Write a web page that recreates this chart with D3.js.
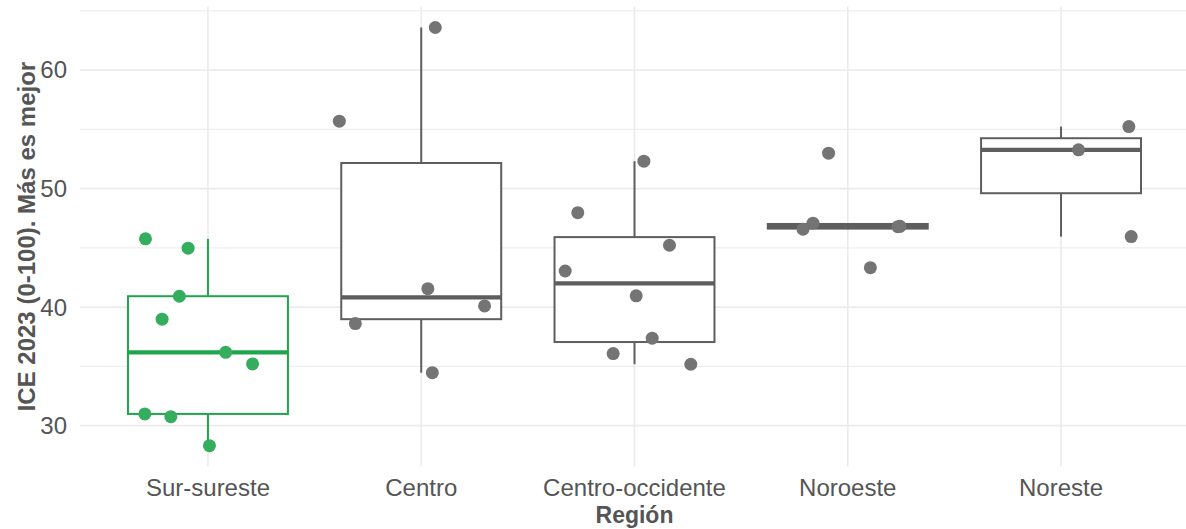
<!DOCTYPE html>
<html>
<head>
<meta charset="utf-8">
<script src="https://cdn.jsdelivr.net/npm/d3@7"></script>
<style>
  body { margin: 0; background: #fff; }
  svg { display: block; font-family: "Liberation Sans", Arial, sans-serif; }
</style>
</head>
<body>
<div id="chart"></div>
<script>
// ICE 2023 by region: boxplots + jittered points

const regiones = ['Sur-sureste', 'Centro', 'Centro-occidente', 'Noroeste', 'Noreste'];

// values per state, by region
const surSureste = [45.76, 44.97, 40.92, 38.98, 36.19, 35.21, 30.99, 30.76, 28.31];
const centro = [63.59, 55.69, 41.56, 40.10, 38.61, 34.47];
const centroOccidente = [52.31, 47.97, 45.22, 43.05, 40.95, 37.38, 36.08, 35.18];
const noroeste = [52.99, 47.08, 46.57, 46.79, 46.82, 43.33];
const noreste = [55.23, 53.27, 45.95];

// horizontal jitter of each point, in category widths
const jitterSurSureste = [-0.293, -0.093, -0.134, -0.215, 0.083, 0.209, -0.296, -0.174, 0.007];
const jitterCentro = [0.066, -0.384, 0.031, 0.297, -0.309, 0.052];
const jitterCentroOccidente = [0.044, -0.266, 0.164, -0.325, 0.008, 0.083, -0.1, 0.264];
const jitterNoroeste = [-0.09, -0.163, -0.21, 0.235, 0.245, 0.106];
const jitterNoreste = [0.318, 0.082, 0.329];

const yTicks = [30, 40, 50, 60];
const yMinor = [35, 45, 55, 65];
const destacada = 'Sur-sureste';

const valores = [surSureste, centro, centroOccidente, noroeste, noreste];
const jitters = [jitterSurSureste, jitterCentro, jitterCentroOccidente, jitterNoroeste, jitterNoreste];

const W = 1186, H = 529;
const margin = { left: 80, right: -3, top: 6.6, bottom: 62.4 };
const GREEN_PT = '#34ae5e', GREEN_LN = '#1fa64d';
const GREY_PT = '#747474', GREY_LN = '#5e5e5e';

const svg = d3.select('#chart').append('svg').attr('width', W).attr('height', H);

const allVals = valores.flat();
const [lo, hi] = d3.extent(allVals);
const pad = (hi - lo) * 0.05;

const x = d3.scalePoint().domain(regiones).range([margin.left, W - margin.right]).padding(0.6);
const step = x.step();
const y = d3.scaleLinear().domain([lo - pad, hi + pad]).range([H - margin.bottom, margin.top]);

const grid = svg.append('g');
grid.selectAll('line.minor').data(yMinor.filter(v => v <= hi + pad)).enter().append('line')
    .attr('x1', margin.left).attr('x2', W - margin.right)
    .attr('y1', d => y(d)).attr('y2', d => y(d))
    .attr('stroke', '#eeeeee').attr('stroke-width', 1.2);
grid.selectAll('line.major').data(yTicks).enter().append('line')
    .attr('x1', margin.left).attr('x2', W - margin.right)
    .attr('y1', d => y(d)).attr('y2', d => y(d))
    .attr('stroke', '#ebebeb').attr('stroke-width', 1.6);
grid.selectAll('line.vert').data(regiones).enter().append('line')
    .attr('x1', d => x(d)).attr('x2', d => x(d))
    .attr('y1', margin.top).attr('y2', H - margin.bottom)
    .attr('stroke', '#ebebeb').attr('stroke-width', 1.6);

// box stats (R type 7 quantiles, same as d3.quantile)
const stats = regiones.map((r, i) => {
    const s = valores[i].slice().sort(d3.ascending);
    const q1 = d3.quantile(s, 0.25), med = d3.quantile(s, 0.5), q3 = d3.quantile(s, 0.75);
    const iqr = q3 - q1;
    const wLo = d3.min(s.filter(v => v >= q1 - 1.5 * iqr));
    const wHi = d3.max(s.filter(v => v <= q3 + 1.5 * iqr));
    return { region: r, q1, med, q3, wLo, wHi };
});

const boxW = step * 0.75;
const boxes = svg.append('g').selectAll('g').data(stats).enter().append('g');
const colLn = d => d.region === destacada ? GREEN_LN : GREY_LN;

boxes.append('line')
    .attr('x1', d => x(d.region)).attr('x2', d => x(d.region))
    .attr('y1', d => y(d.q3)).attr('y2', d => y(d.wHi))
    .attr('stroke', colLn).attr('stroke-width', 2);
boxes.append('line')
    .attr('x1', d => x(d.region)).attr('x2', d => x(d.region))
    .attr('y1', d => y(d.q1)).attr('y2', d => y(d.wLo))
    .attr('stroke', colLn).attr('stroke-width', 2);
boxes.append('rect')
    .attr('x', d => x(d.region) - boxW / 2).attr('width', boxW)
    .attr('y', d => y(d.q3)).attr('height', d => y(d.q1) - y(d.q3))
    .attr('fill', '#fff').attr('stroke', colLn).attr('stroke-width', 2);
boxes.append('line')
    .attr('x1', d => x(d.region) - boxW / 2).attr('x2', d => x(d.region) + boxW / 2)
    .attr('y1', d => y(d.med)).attr('y2', d => y(d.med))
    .attr('stroke', colLn).attr('stroke-width', 4.2);

const puntos = regiones.flatMap((r, i) => valores[i].map((v, j) => ({ region: r, value: v, jit: jitters[i][j] })));
svg.append('g').selectAll('circle').data(puntos).enter().append('circle')
    .attr('cx', d => x(d.region) + d.jit * step)
    .attr('cy', d => y(d.value))
    .attr('r', 6.5)
    .attr('fill', d => d.region === destacada ? GREEN_PT : GREY_PT);

// axes labels
const txt = '#555555';
svg.append('g').selectAll('text').data(yTicks).enter().append('text')
    .attr('x', 67).attr('y', d => y(d)).attr('dy', '0.35em')
    .attr('text-anchor', 'end').attr('fill', txt).style('font-size', '24px')
    .text(d => d);
svg.append('g').selectAll('text').data(regiones).enter().append('text')
    .attr('x', d => x(d)).attr('y', 496)
    .attr('text-anchor', 'middle').attr('fill', txt).style('font-size', '24px')
    .text(d => d);

svg.append('text')
    .attr('x', (margin.left + W - margin.right) / 2).attr('y', 523)
    .attr('text-anchor', 'middle').attr('fill', txt)
    .style('font-size', '23px').style('font-weight', 'bold')
    .text('Región');
svg.append('text')
    .attr('transform', `translate(35, ${(y.range()[0] + y.range()[1]) / 2}) rotate(-90)`)
    .attr('text-anchor', 'middle').attr('fill', txt)
    .style('font-size', '24px').style('font-weight', 'bold')
    .text('ICE 2023 (0-100). Más es mejor');
</script>
</body>
</html>
